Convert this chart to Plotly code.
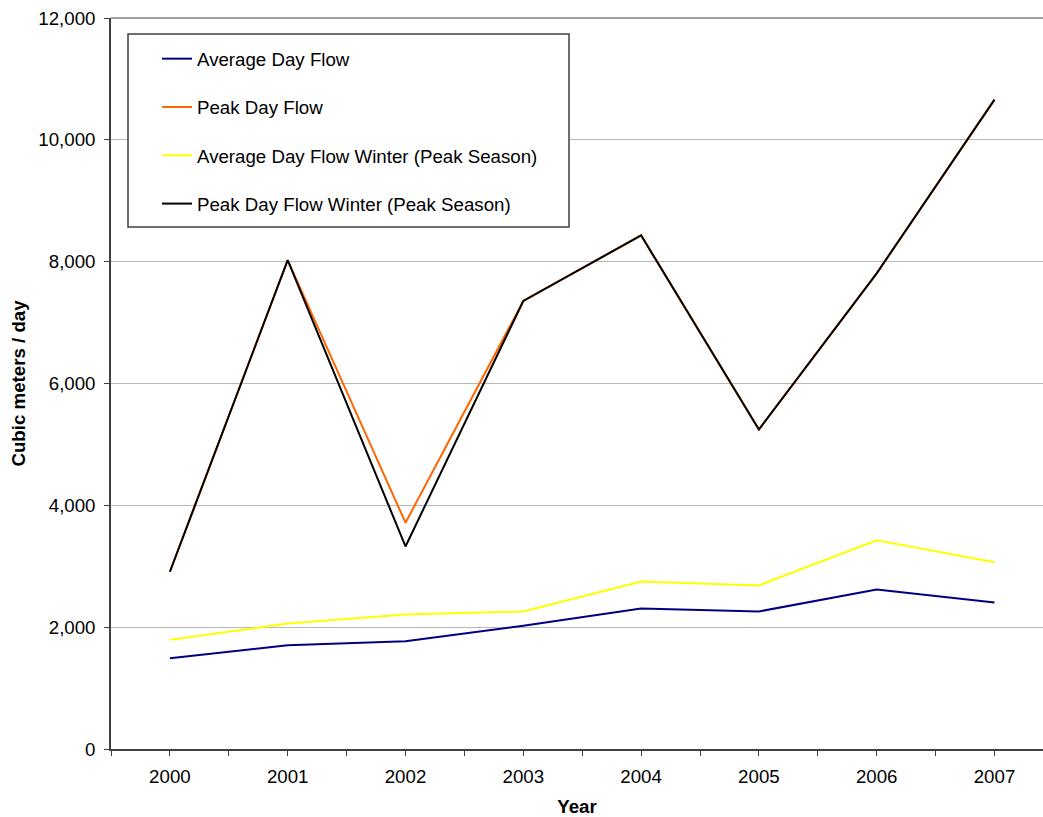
import plotly.graph_objects as go

# Flow history, cubic meters per day
years = [2000, 2001, 2002, 2003, 2004, 2005, 2006, 2007]
avg_day_flow = [1490, 1705, 1770, 2025, 2305, 2258, 2618, 2405]
peak_day_flow = [2910, 8025, 3715, 7355, 8432, 5245, 7808, 10660]
avg_day_flow_winter = [1792, 2060, 2207, 2257, 2750, 2686, 3425, 3067]
peak_day_flow_winter = [2910, 8025, 3325, 7355, 8432, 5245, 7808, 10660]

series_names = [
    "Average Day Flow",
    "Peak Day Flow",
    "Average Day Flow Winter (Peak Season)",
    "Peak Day Flow Winter (Peak Season)",
]
series_values = [avg_day_flow, peak_day_flow, avg_day_flow_winter, peak_day_flow_winter]
series_colors = ["#000080", "#FF6600", "#FFFF00", "#000000"]

y_ticks = [0, 2000, 4000, 6000, 8000, 10000, 12000]

FONT = "Liberation Sans, Arial, sans-serif"
FS = 18.7

fig = go.Figure()
for i, (name, vals, col) in enumerate(zip(series_names, series_values, series_colors)):
    fig.add_trace(go.Scatter(
        x=years, y=vals, name=name, mode="lines",
        line=dict(color=col, width=2),
        legendgroup=f"g{i}",
    ))

W, H = 1043, 817
L, R, T, B = 111, 0, 18, 68
pw, ph = W - L - R, H - T - B
step = 117.8  # px per category
x_lo = years[0] - 0.5
x_hi = x_lo + pw / step

def px_to_paper_x(px):
    return (px - L) / pw

def px_to_paper_y(py):
    return (H - B - py) / ph

fig.update_layout(
    width=W, height=H,
    margin=dict(l=L, r=R, t=T, b=B, pad=0),
    paper_bgcolor="white", plot_bgcolor="white",
    font=dict(family=FONT, size=FS, color="#000000"),
    showlegend=True,
    legend=dict(
        x=px_to_paper_x(157), y=px_to_paper_y(40),
        xanchor="left", yanchor="top",
        bgcolor="rgba(0,0,0,0)", borderwidth=0,
        font=dict(family=FONT, size=FS, color="#000000"),
        tracegroupgap=21,
        traceorder="grouped",
    ),
    xaxis=dict(
        range=[x_lo, x_hi],
        tickvals=years, ticktext=[str(y) for y in years],
        ticks="outside", ticklen=5, tickwidth=1, tickcolor="#404040",
        minor=dict(tick0=x_lo, dtick=1, ticks="outside", ticklen=5,
                   tickwidth=1, tickcolor="#404040", showgrid=False),
        showgrid=False, zeroline=False,
        showline=True, linecolor="#404040", linewidth=1.5,
        ticklabelstandoff=5,
        tickfont=dict(family=FONT, size=FS, color="#000000"),
        title=dict(text="<b>Year</b>", standoff=14,
                   font=dict(family=FONT, size=FS, color="#000000")),
    ),
    yaxis=dict(
        range=[0, 12000], tickvals=y_ticks, tickformat=",",
        ticks="outside", ticklen=5, tickwidth=1, tickcolor="#404040",
        showgrid=True, gridcolor="#b8b8b8", gridwidth=1,
        zeroline=False,
        showline=True, linecolor="#404040", linewidth=1.5,
        ticklabelstandoff=5,
        tickfont=dict(family=FONT, size=FS, color="#000000"),
        title=dict(text="<b>Cubic meters / day</b>", standoff=8,
                   font=dict(family=FONT, size=FS, color="#000000")),
    ),
    shapes=[
        # top border of the plot area
        dict(type="line", xref="paper", yref="paper", x0=0, x1=1, y0=1, y1=1,
             line=dict(color="#808080", width=1.5), layer="above"),
        # legend frame
        dict(type="rect", xref="paper", yref="paper",
             x0=px_to_paper_x(128), x1=px_to_paper_x(569),
             y0=px_to_paper_y(227), y1=px_to_paper_y(34),
             line=dict(color="#404040", width=1.5), fillcolor="white",
             layer="above"),
    ],
)

fig.write_html("out.html")
